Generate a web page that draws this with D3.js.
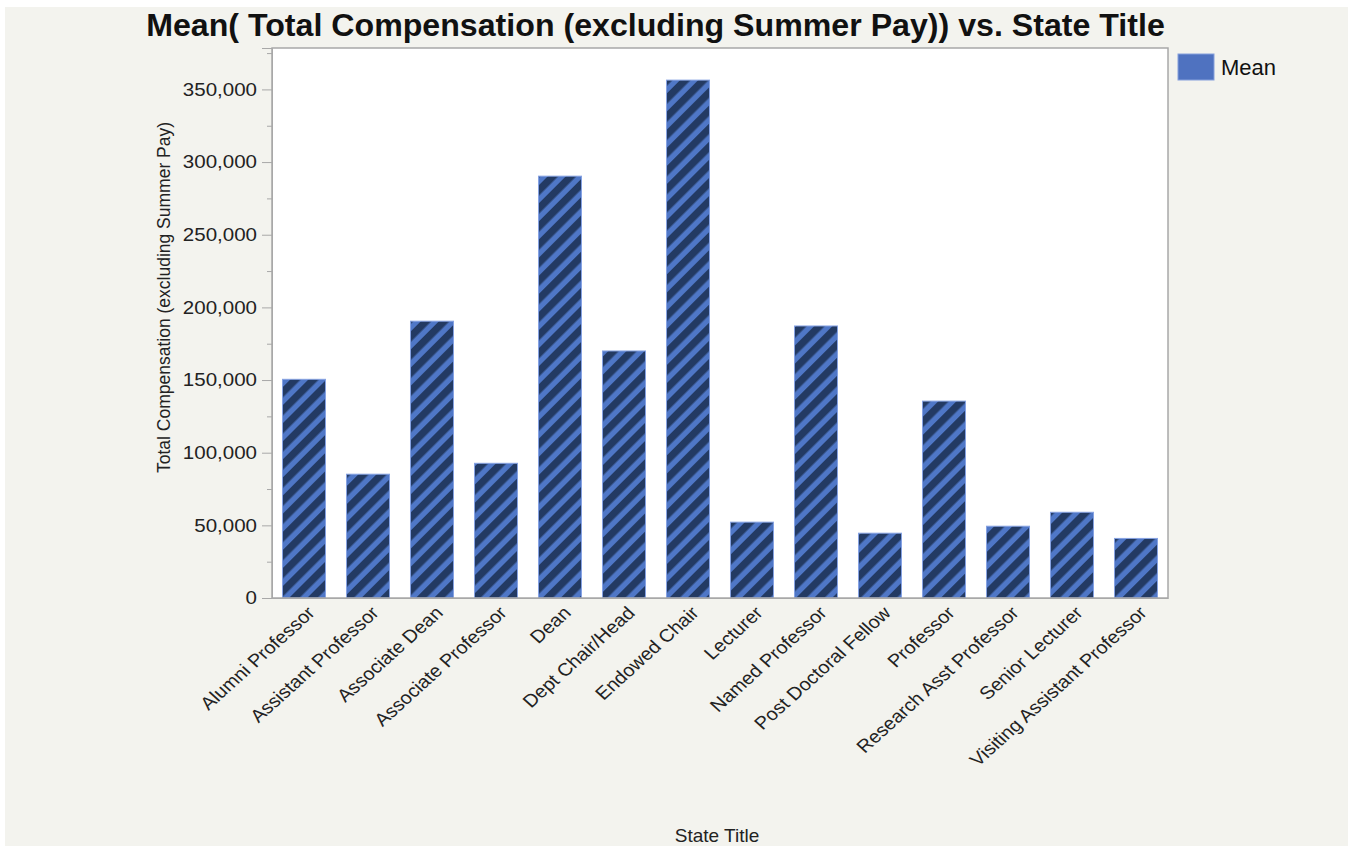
<!DOCTYPE html>
<html>
<head>
<meta charset="utf-8">
<script src="https://cdn.jsdelivr.net/npm/d3@7"></script>
<style>
  body { margin: 0; background: #ffffff; }
  svg { display: block; font-family: "Liberation Sans", Arial, Helvetica, sans-serif; }
</style>
</head>
<body>
<svg id="chart" width="1348" height="846"></svg>
<script>
// Mean total compensation by state title
const categories = [
  "Alumni Professor", "Assistant Professor", "Associate Dean", "Associate Professor",
  "Dean", "Dept Chair/Head", "Endowed Chair", "Lecturer", "Named Professor",
  "Post Doctoral Fellow", "Professor", "Research Asst Professor", "Senior Lecturer",
  "Visiting Assistant Professor"
];
const meanValues = [
  150500, 85200, 190500, 92700, 290300, 170000, 356400,
  52200, 187200, 44600, 135500, 49400, 59000, 41000
];
const yTickValues = [0, 50000, 100000, 150000, 200000, 250000, 300000, 350000];
const yMinorTickValues = [25000, 75000, 125000, 175000, 225000, 275000, 325000, 375000];
const yMax = 378500;
const chartTitle = "Mean( Total Compensation (excluding Summer Pay)) vs. State Title";
const yTitle = "Total Compensation (excluding Summer Pay)";
const xTitle = "State Title";
const legendLabels = ["Mean"];

const svg = d3.select("#chart");
const W = 1348, H = 846;
const plot = { left: 272, right: 1168, top: 48, bottom: 598 };
const textStretch = 1.11; // text is drawn slightly wide

// page background
svg.append("rect").attr("x", 5).attr("y", 7).attr("width", W - 5).attr("height", H - 7)
  .attr("fill", "#f3f3ee");

// diagonal stripe fill for the bars
const defs = svg.append("defs");
const pat = defs.append("pattern")
  .attr("id", "stripes")
  .attr("patternUnits", "userSpaceOnUse")
  .attr("width", 12.8).attr("height", 20)
  .attr("patternTransform", "rotate(45)");
pat.append("rect").attr("width", 12.8).attr("height", 20).attr("fill", "#4f77c7");
pat.append("rect").attr("width", 7.4).attr("height", 20).attr("fill", "#233a63");

const x = d3.scaleBand()
  .domain(categories)
  .range([plot.left, plot.right])
  .paddingInner(0.328)
  .paddingOuter(0.164);

const y = d3.scaleLinear()
  .domain([0, yMax])
  .range([plot.bottom, plot.top]);

// plot area
svg.append("rect")
  .attr("x", plot.left).attr("y", plot.top)
  .attr("width", plot.right - plot.left).attr("height", plot.bottom - plot.top)
  .attr("fill", "#ffffff");

// bars
svg.append("g").selectAll("rect")
  .data(categories.map((c, i) => ({ c, v: meanValues[i] })))
  .join("rect")
  .attr("x", d => x(d.c))
  .attr("y", d => y(d.v))
  .attr("width", x.bandwidth())
  .attr("height", d => y(0) - y(d.v))
  .attr("fill", "url(#stripes)")
  .attr("stroke", "#86a2e2")
  .attr("stroke-width", 1);

// plot frame
svg.append("rect")
  .attr("x", plot.left).attr("y", plot.top)
  .attr("width", plot.right - plot.left).attr("height", plot.bottom - plot.top)
  .attr("fill", "none").attr("stroke", "#a8a8a8").attr("stroke-width", 1.5);

// y axis, major ticks with labels
const yAxis = svg.append("g")
  .attr("transform", `translate(${plot.left},0)`)
  .call(d3.axisLeft(y).tickValues(yTickValues).tickFormat(d3.format(",")).tickSize(10).tickPadding(5));
yAxis.select(".domain").attr("stroke", "#a8a8a8");
yAxis.selectAll(".tick line").attr("stroke", "#a8a8a8");
yAxis.selectAll(".tick text")
  .attr("fill", "#222")
  .style("font-size", "18.5px")
  .attr("x", -15 / textStretch)
  .attr("transform", `scale(${textStretch},1)`);

// y axis, minor ticks
const yMinor = svg.append("g")
  .attr("transform", `translate(${plot.left},0)`)
  .call(d3.axisLeft(y).tickValues(yMinorTickValues).tickFormat("").tickSize(5));
yMinor.select(".domain").remove();
yMinor.selectAll(".tick line").attr("stroke", "#a8a8a8");

// x axis, rotated category labels
const xAxis = svg.append("g")
  .attr("transform", `translate(0,${plot.bottom})`)
  .call(d3.axisBottom(x).tickSize(0));
xAxis.select(".domain").attr("stroke", "#a8a8a8");
xAxis.selectAll(".tick text")
  .attr("fill", "#222")
  .style("font-size", "18px")
  .attr("text-anchor", "end")
  .attr("x", 0).attr("y", 0)
  .attr("dy", "0.71em")
  .attr("transform", `translate(2,7) scale(${textStretch},1) rotate(-45)`);

// title, fitted to its width across the chart
const title = svg.append("text")
  .attr("x", 655.5).attr("y", 36)
  .attr("text-anchor", "middle")
  .attr("font-weight", "bold")
  .attr("fill", "#111")
  .style("font-size", "26px")
  .text(chartTitle);
const tl = title.node().getComputedTextLength();
title.style("font-size", (26 * 1019 / tl) + "px");

// axis titles
svg.append("text")
  .attr("transform", `translate(170,${297.5}) rotate(-90)`)
  .attr("text-anchor", "middle")
  .attr("fill", "#222")
  .style("font-size", "17.5px")
  .text(yTitle);

svg.append("text")
  .attr("x", 717).attr("y", 842)
  .attr("text-anchor", "middle")
  .attr("fill", "#222")
  .style("font-size", "19px")
  .text(xTitle);

// legend
const legend = svg.append("g").attr("transform", "translate(1178,54)");
legend.selectAll("rect").data(legendLabels).join("rect")
  .attr("x", 0).attr("y", (d, i) => i * 30)
  .attr("width", 36).attr("height", 26)
  .attr("fill", "#4f72c0").attr("stroke", "#86a0dc").attr("stroke-width", 1);
legend.selectAll("text").data(legendLabels).join("text")
  .attr("x", 43).attr("y", (d, i) => i * 30 + 21)
  .attr("fill", "#111")
  .style("font-size", "22px")
  .text(d => d);
</script>
</body>
</html>
